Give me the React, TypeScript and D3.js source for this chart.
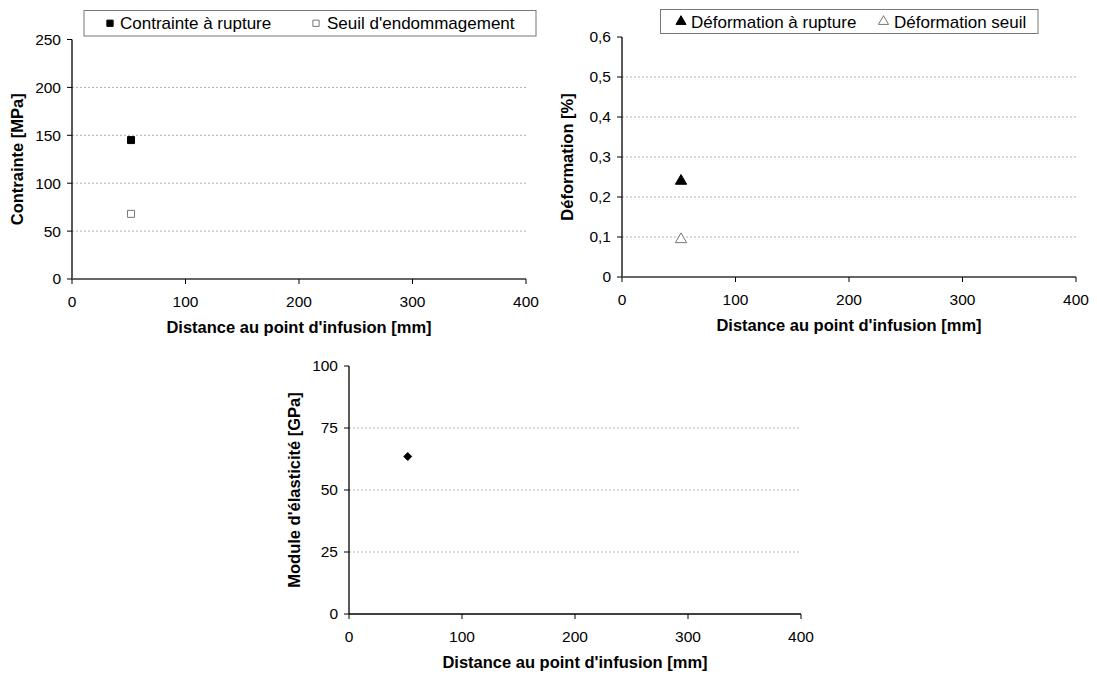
import React from "react";
import * as d3 from "d3";

const xTicks = [0, 100, 200, 300, 400];
const distance = [52];
const contrainteRupture = [145];
const seuilEndommagement = [68];
const deformationRupture = [0.24];
const deformationSeuil = [0.094];
const moduleElasticite = [63.5];

const yTicks1 = [0, 50, 100, 150, 200, 250];
const yTicks2 = [0, 0.1, 0.2, 0.3, 0.4, 0.5, 0.6];
const yTicks3 = [0, 25, 50, 75, 100];

const FONT = "'Liberation Sans', Arial, sans-serif";

type Series = { x: number[]; y: number[]; symbol: d3.SymbolType; fill: string; stroke: string; size: number; label: string };

type PanelProps = {
  x0: number; x1: number; yTop: number; yBottom: number;
  yMax: number; yTicks: number[]; yFmt: (v: number) => string;
  yTitle: string; series: Series[]; xAxisColor: string; xAxisWidth: number;
  legend?: { x: number; y: number; w: number; h: number; items: { mx: number; tx: number }[] };
};

function Panel(p: PanelProps) {
  const xs = d3.scaleLinear().domain([0, 400]).range([p.x0, p.x1]);
  const ys = d3.scaleLinear().domain([0, p.yMax]).range([p.yBottom, p.yTop]);
  const midY = (p.yTop + p.yBottom) / 2;
  const midX = (p.x0 + p.x1) / 2;
  return (
    <g fontFamily={FONT}>
      {p.yTicks.filter((t) => t > 0 && t < p.yMax).map((t) => (
        <line key={"g" + t} x1={p.x0} x2={p.x1} y1={ys(t)} y2={ys(t)} stroke="#b0b0b0" strokeWidth={1} strokeDasharray="2,2" />
      ))}
      <line x1={p.x0} x2={p.x0} y1={p.yTop} y2={p.yBottom} stroke="#000" strokeWidth={1.3} />
      {p.yTicks.map((t) => (
        <g key={"y" + t}>
          <line x1={p.x0 - 5} x2={p.x0} y1={ys(t)} y2={ys(t)} stroke="#000" strokeWidth={1} />
          <text x={p.x0 - 11} y={ys(t)} dy="0.35em" textAnchor="end" fontSize={15.5} fill="#000">{p.yFmt(t)}</text>
        </g>
      ))}
      <line x1={p.x0} x2={p.x1} y1={p.yBottom} y2={p.yBottom} stroke={p.xAxisColor} strokeWidth={p.xAxisWidth} />
      {xTicks.map((t) => (
        <g key={"x" + t}>
          <line x1={xs(t)} x2={xs(t)} y1={p.yBottom} y2={p.yBottom + 5} stroke="#000" strokeWidth={1} />
          <text x={xs(t)} y={p.yBottom + 28} textAnchor="middle" fontSize={15.5} fill="#000">{t}</text>
        </g>
      ))}
      <text x={midX} y={p.yBottom + 54} textAnchor="middle" fontSize={16.5} fontWeight="bold" fill="#000">Distance au point d'infusion [mm]</text>
      <text transform={`translate(${p.x0 - 49},${midY}) rotate(-90)`} textAnchor="middle" fontSize={16.5} fontWeight="bold" fill="#000">{p.yTitle}</text>
      {p.series.map((s, si) =>
        s.x.map((xv, i) => (
          <path key={si + "-" + i} transform={`translate(${xs(xv)},${ys(s.y[i])})`} d={d3.symbol(s.symbol, s.size)() || ""} fill={s.fill} stroke={s.stroke} strokeWidth={1} />
        ))
      )}
      {p.legend && (
        <g>
          <rect x={p.legend.x} y={p.legend.y} width={p.legend.w} height={p.legend.h} fill="#fff" stroke="#777" strokeWidth={1} />
          {p.series.map((s, si) => (
            <g key={"l" + si}>
              <path transform={`translate(${p.legend!.items[si].mx},${p.legend!.y + p.legend!.h / 2})`} d={d3.symbol(s.symbol, s.size * 0.8)() || ""} fill={s.fill} stroke={s.stroke} strokeWidth={1} />
              <text x={p.legend!.items[si].tx} y={p.legend!.y + p.legend!.h / 2} dy="0.36em" fontSize={17} fill="#000">{s.label}</text>
            </g>
          ))}
        </g>
      )}
    </g>
  );
}

export default function App() {
  const fmtComma = (v: number) => (v === 0 ? "0" : d3.format(".1f")(v).replace(".", ","));
  const fmtInt = (v: number) => String(v);
  return (
    <svg width={1097} height={680} style={{ position: "absolute", left: 0, top: 0, background: "#fff" }}>
      <rect x={0} y={0} width={1097} height={680} fill="#fff" />
      <Panel
        x0={72} x1={526} yTop={39.5} yBottom={279} yMax={250} yTicks={yTicks1} yFmt={fmtInt}
        yTitle="Contrainte [MPa]" xAxisColor="#666" xAxisWidth={2}
        series={[
          { x: distance, y: contrainteRupture, symbol: d3.symbolSquare, fill: "#000", stroke: "#000", size: 49, label: "Contrainte à rupture" },
          { x: distance, y: seuilEndommagement, symbol: d3.symbolSquare, fill: "#fff", stroke: "#777", size: 49, label: "Seuil d'endommagement" },
        ]}
        legend={{ x: 84, y: 10.5, w: 452, h: 25.5, items: [{ mx: 110, tx: 120 }, { mx: 316, tx: 327 }] }}
      />
      <Panel
        x0={622} x1={1076} yTop={37} yBottom={277} yMax={0.6} yTicks={yTicks2} yFmt={fmtComma}
        yTitle="Déformation [%]" xAxisColor="#666" xAxisWidth={2}
        series={[
          { x: distance, y: deformationRupture, symbol: d3.symbolTriangle, fill: "#000", stroke: "#000", size: 55, label: "Déformation à rupture" },
          { x: distance, y: deformationSeuil, symbol: d3.symbolTriangle, fill: "#fff", stroke: "#777", size: 55, label: "Déformation seuil" },
        ]}
        legend={{ x: 660.5, y: 9.5, w: 377.5, h: 24, items: [{ mx: 681, tx: 691 }, { mx: 883.5, tx: 894 }] }}
      />
      <Panel
        x0={349} x1={801} yTop={366} yBottom={614} yMax={100} yTicks={yTicks3} yFmt={fmtInt}
        yTitle="Module d'élasticité [GPa]" xAxisColor="#000" xAxisWidth={1.3}
        series={[
          { x: distance, y: moduleElasticite, symbol: d3.symbolDiamond2, fill: "#000", stroke: "#000", size: 40, label: "Module" },
        ]}
      />
    </svg>
  );
}
